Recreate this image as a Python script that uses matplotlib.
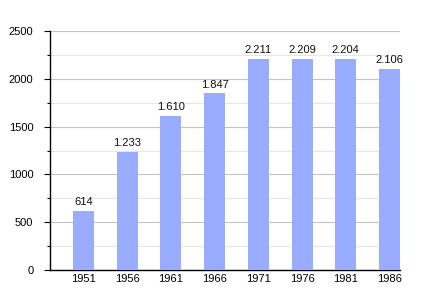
import matplotlib
matplotlib.use('Agg')
import matplotlib.pyplot as plt
from matplotlib.ticker import MultipleLocator

years = ['1951', '1956', '1961', '1966', '1971', '1976', '1981', '1986']
population = [614, 1233, 1610, 1847, 2211, 2209, 2204, 2106]
labels = ['614', '1.233', '1.610', '1.847', '2.211', '2.209', '2.204', '2.106']

plt.rcParams['font.family'] = ['Liberation Sans', 'DejaVu Sans']

fig = plt.figure(figsize=(4.3, 3.0), dpi=100)
ax = fig.add_axes([50/430, 30/300, 350/430, 239/300])

x = list(range(len(years)))
ax.bar(x, population, width=0.48, color='#99acff', zorder=3)

for xi, v, t in zip(x, population, labels):
    ax.text(xi, v + 40, t, ha='center', va='bottom', fontsize=8, color='#111111')

ax.set_xlim(-0.76, 7.24)
ax.set_ylim(0, 2500)
ax.yaxis.set_major_locator(MultipleLocator(500))
ax.yaxis.set_minor_locator(MultipleLocator(250))
ax.grid(axis='y', which='major', color='#c4c4c4', linewidth=0.8, zorder=0)
ax.grid(axis='y', which='minor', color='#e6e6e6', linewidth=0.8, zorder=0)

ax.set_xticks(x)
ax.set_xticklabels(years)
ax.tick_params(axis='x', length=0, labelsize=8, pad=3)
ax.tick_params(axis='y', which='major', length=4, width=0.8, labelsize=8, pad=8)
ax.tick_params(axis='y', which='minor', length=2.5, width=0.8)

for s in ['top', 'right']:
    ax.spines[s].set_visible(False)
ax.spines['left'].set_linewidth(1.0)
ax.spines['bottom'].set_linewidth(1.0)

fig.savefig('out.png', dpi=100)
